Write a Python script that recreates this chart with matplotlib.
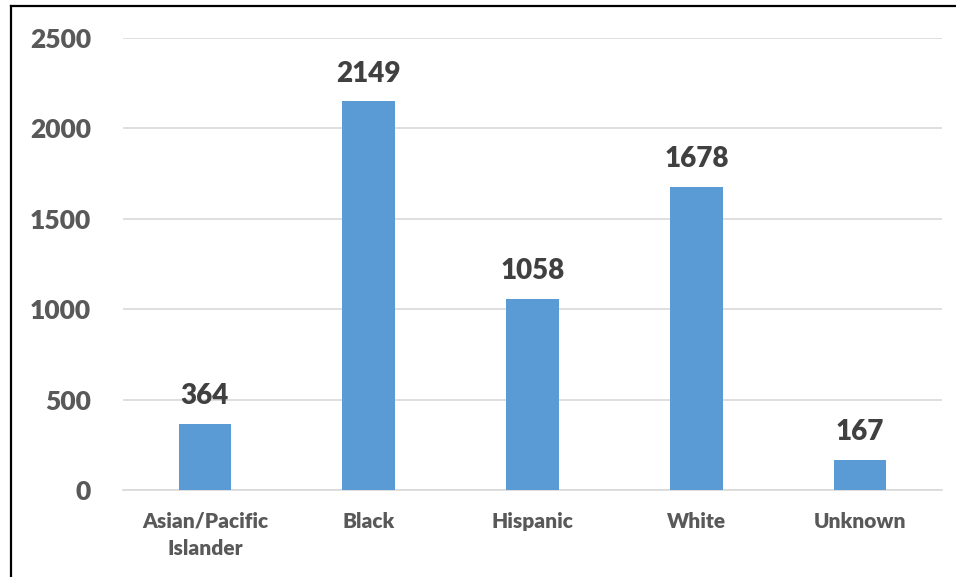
import matplotlib.pyplot as plt
from matplotlib.lines import Line2D

# Data
categories = ["Asian/Pacific\nIslander", "Black", "Hispanic", "White", "Unknown"]
values = [364, 2149, 1058, 1678, 167]
yticks = [0, 500, 1000, 1500, 2000, 2500]

plt.rcParams['font.family'] = ['Lato', 'DejaVu Sans']

fig = plt.figure(figsize=(9.56, 5.77), dpi=100)
W, H = 956, 577
ax = fig.add_axes([123 / W, (H - 490) / H, (942 - 123) / W, (490 - 38) / H])

x = range(len(categories))
bars = ax.bar(x, values, width=0.32, color='#5b9bd5', zorder=3)

for xi, v in zip(x, values):
    ax.text(xi, v + 82, str(v), ha='center', va='bottom', fontsize=20,
            fontweight='heavy', color='#404040')

ax.set_xlim(-0.5, len(categories) - 0.5)
ax.set_ylim(0, 2500)
ax.set_yticks(yticks)
ax.set_yticklabels([str(t) for t in yticks], fontsize=19, fontweight='heavy', color='#595959')
ax.set_xticks(list(x))
ax.set_xticklabels(categories, fontsize=15, fontweight='heavy', color='#595959', linespacing=1.5)
ax.tick_params(axis='y', length=0, pad=23)
ax.tick_params(axis='x', length=0, pad=15.5)
ax.grid(axis='y', color='#d9d9d9', linewidth=1.2, zorder=0)
for s in ['top', 'right', 'left']:
    ax.spines[s].set_visible(False)
ax.spines['bottom'].set_color('#d9d9d9')
ax.spines['bottom'].set_linewidth(1.2)

# outer border (top and left only)
fig.add_artist(Line2D([10.5 / W, 1], [1 - 5.5 / H, 1 - 5.5 / H], color='black', linewidth=1.6))
fig.add_artist(Line2D([10.5 / W, 10.5 / W], [0, 1 - 5.5 / H], color='black', linewidth=1.6))

fig.savefig("out.png", dpi=100)
